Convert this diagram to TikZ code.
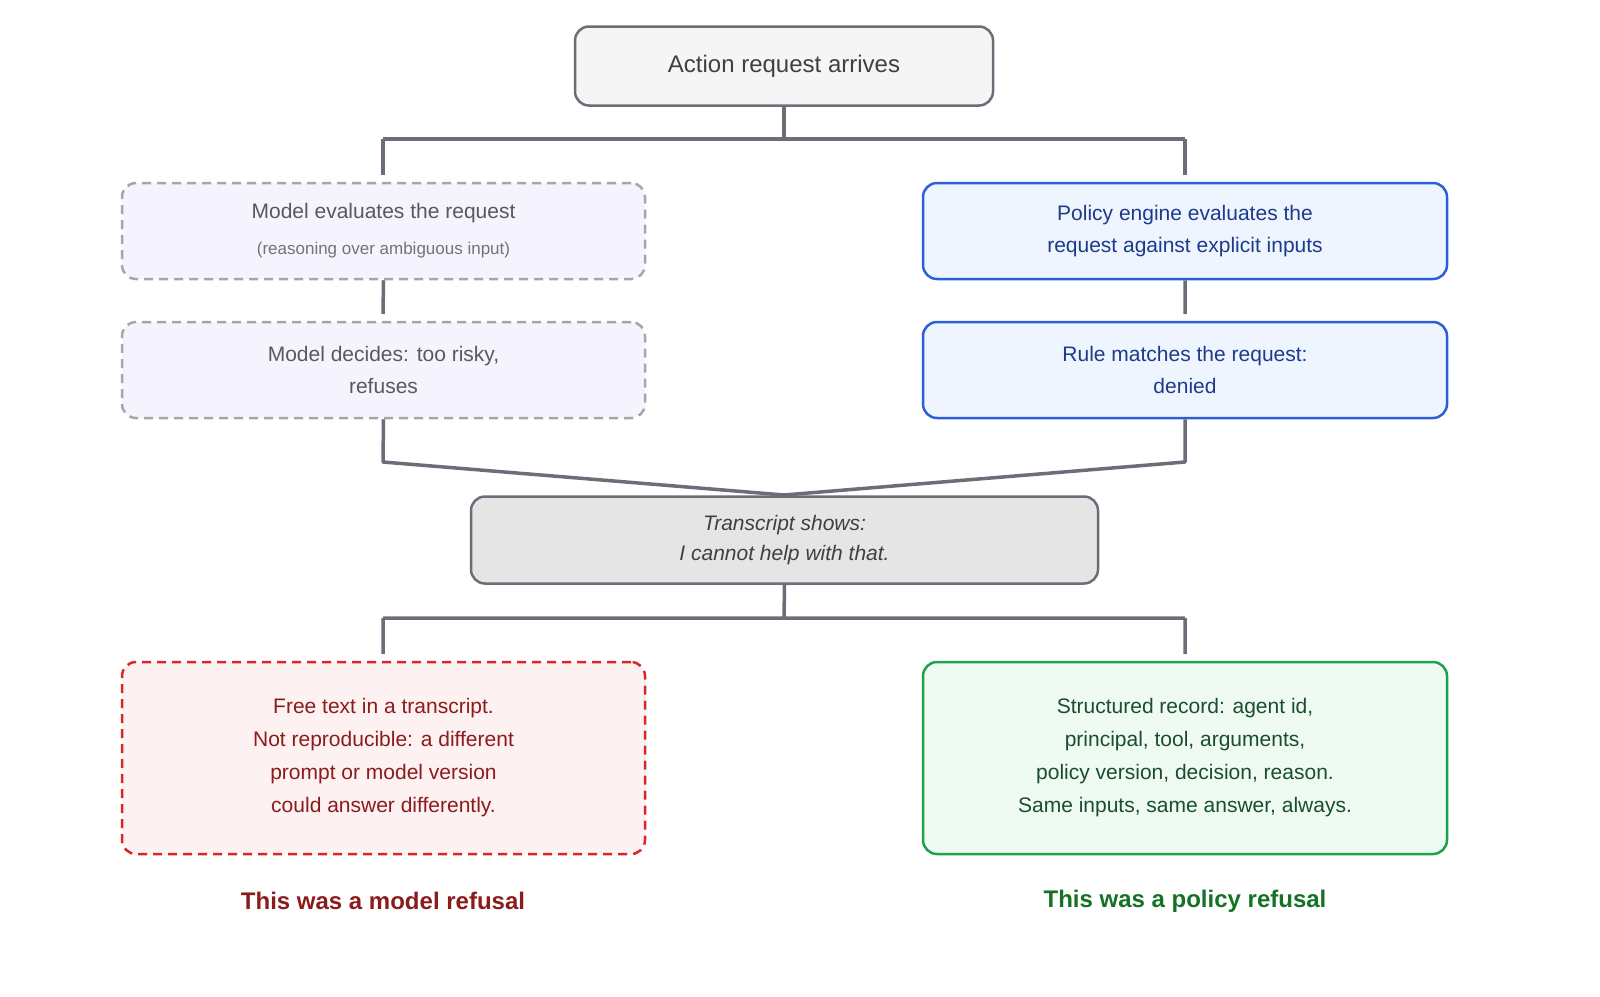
\documentclass[tikz,border=0pt]{standalone}
\usepackage{fontspec}
\setmainfont{Liberation Sans}
\definecolor{lineg}{HTML}{6B6E78}
\definecolor{blueD}{HTML}{2B5FD9}
\definecolor{blueF}{HTML}{EEF5FF}
\definecolor{blueT}{HTML}{1E3A8A}
\definecolor{redD}{HTML}{D9262B}
\definecolor{redF}{HTML}{FDF1F1}
\definecolor{redT}{HTML}{8B1C1C}
\definecolor{greenD}{HTML}{1CA34A}
\definecolor{greenF}{HTML}{EFFBF2}
\definecolor{greenT}{HTML}{1A4D2E}
\definecolor{purF}{HTML}{F5F4FE}
\begin{document}
\begin{tikzpicture}[x=1pt,y=-1pt,
  base/.style={rounded corners=14pt,line width=2.5pt,align=center,inner sep=0pt},
  grayb/.style={base,draw=lineg,fill=gray!8,text=black!75},
  purb/.style={base,draw=gray!70,dashed,dash pattern=on 9pt off 6pt,fill=purF,text=black!65},
  blueb/.style={base,draw=blueD,fill=blueF,text=blueT},
  redb/.style={base,draw=redD,dashed,dash pattern=on 9pt off 6pt,fill=redF,text=redT},
  greenb/.style={base,draw=greenD,fill=greenF,text=greenT},
  conn/.style={draw=lineg,line width=3.5pt},
  txt/.style={font=\fontsize{21}{32}\selectfont}]
\useasboundingbox (0,0) rectangle (1600,996);
\node[grayb,minimum width=418pt,minimum height=79pt,font=\fontsize{24}{30}\selectfont] (top) at (784,66) {Action request arrives};
\node[purb,minimum width=523pt,minimum height=96pt,txt] (l1) at (383.5,231) {Model evaluates the request\\[4pt]{\fontsize{17}{24}\selectfont\color{black!55}(reasoning over ambiguous input)}};
\node[blueb,minimum width=524pt,minimum height=96pt,txt] (r1) at (1185,231) {Policy engine evaluates the\\request against explicit inputs};
\node[purb,minimum width=523pt,minimum height=96pt,txt] (l2) at (383.5,370) {Model decides: too risky,\\refuses};
\node[blueb,minimum width=524pt,minimum height=96pt,txt] (r2) at (1185,370) {Rule matches the request:\\denied};
\node[grayb,fill=gray!20,minimum width=627pt,minimum height=87pt,font=\fontsize{21}{30}\selectfont\itshape] (tr) at (784.5,540) {Transcript shows:\\I cannot help with that.};
\node[redb,minimum width=523pt,minimum height=192pt,font=\fontsize{21}{33}\selectfont] (bl) at (383.5,758) {Free text in a transcript.\\Not reproducible: a different\\prompt or model version\\could answer differently.};
\node[greenb,minimum width=524pt,minimum height=192pt,font=\fontsize{21}{33}\selectfont] (br) at (1185,758) {Structured record: agent id,\\principal, tool, arguments,\\policy version, decision, reason.\\Same inputs, same answer, always.};
\node[font=\fontsize{24}{30}\selectfont\bfseries,text=redT] (lab1) at (383,901) {This was a model refusal};
\node[font=\fontsize{24}{30}\selectfont\bfseries,text=greenT!80!green] (lab2) at (1185,901) {This was a policy refusal};
\coordinate (a1) at (784,139); \coordinate (a2) at (383,139); \coordinate (a3) at (1185,139);
\coordinate (a4) at (383,175); \coordinate (a5) at (1185,175);
\draw[conn] (top.south) -- (a1) (a2) -- (a3) (a2) -- (a4) (a3) -- (a5);
\coordinate (b1) at (383,314); \coordinate (b2) at (1185,314);
\draw[conn] (l1.south) -- (b1) (r1.south) -- (b2);
\coordinate (c1) at (383,462); \coordinate (c2) at (1185,462); \coordinate (c3) at (784,495);
\draw[conn,line join=round] (l2.south) -- (c1) -- (c3) -- (c2) -- (r2.south);
\coordinate (d1) at (784,618); \coordinate (d2) at (383,618); \coordinate (d3) at (1185,618);
\coordinate (d4) at (383,654); \coordinate (d5) at (1185,654);
\draw[conn] (tr.south) -- (d1) (d2) -- (d3) (d2) -- (d4) (d3) -- (d5);
\end{tikzpicture}
\end{document}
